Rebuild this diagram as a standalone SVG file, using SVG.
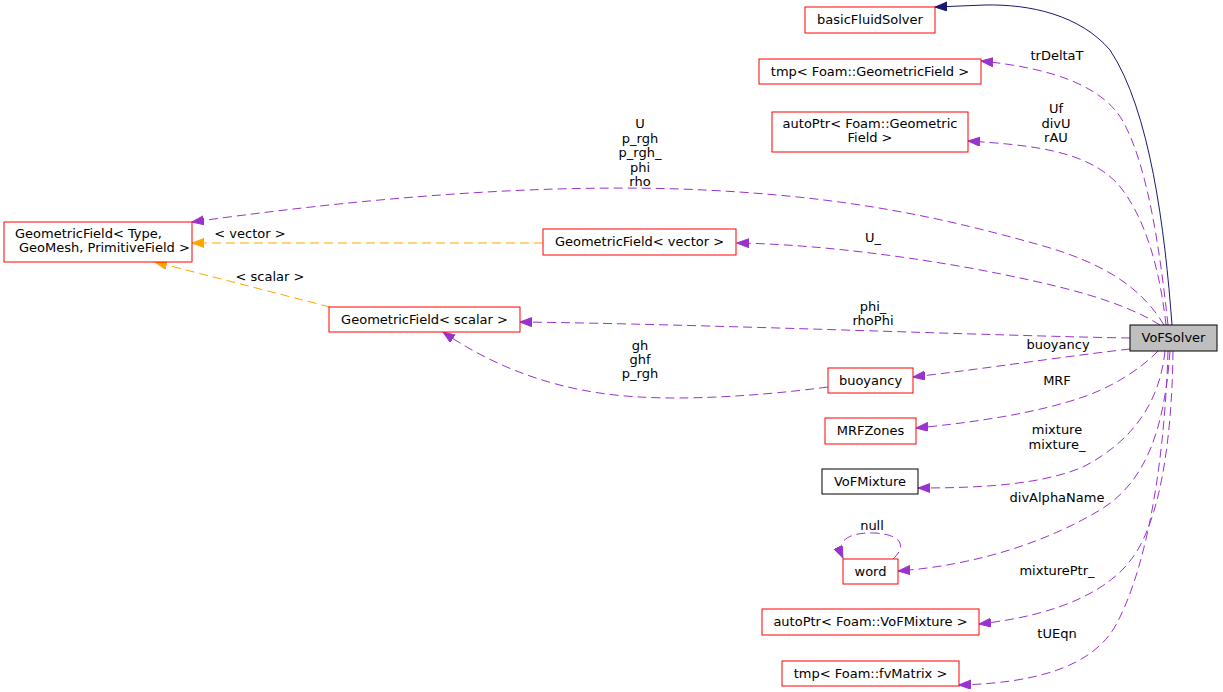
<svg xmlns="http://www.w3.org/2000/svg" width="1223" height="692" viewBox="0 0 1223 692">
  <style>
    text { font-family: "DejaVu Sans", "Liberation Sans", sans-serif; font-size: 13px; fill: #000; }
    .lbl { text-anchor: middle; }
    .node rect { fill: #fff; stroke: #ff0000; stroke-width: 1; }
    .node.plain rect { stroke: #000; }
    .node.main rect { fill: #bfbfbf; stroke: #000; }
    .node text { text-anchor: middle; }
    .use { fill: none; stroke: #9a32cd; stroke-width: 1; stroke-dasharray: 9,5; marker-end: url(#arrPurple); }
    .tpl { fill: none; stroke: #ffa500; stroke-width: 1; stroke-dasharray: 9,5; marker-end: url(#arrOrange); }
    .inh { fill: none; stroke: #191970; stroke-width: 1; marker-end: url(#arrNavy); }
  </style>
  <defs>
    <marker id="arrPurple" markerUnits="userSpaceOnUse" markerWidth="13" markerHeight="10" refX="12" refY="4.5" orient="auto">
      <path d="M0,0 L12,4.5 L0,9 z" fill="#9a32cd" stroke="#9a32cd"/>
    </marker>
    <marker id="arrOrange" markerUnits="userSpaceOnUse" markerWidth="13" markerHeight="10" refX="12" refY="4.5" orient="auto">
      <path d="M0,0 L12,4.5 L0,9 z" fill="#ffa500" stroke="#ffa500"/>
    </marker>
    <marker id="arrNavy" markerUnits="userSpaceOnUse" markerWidth="13" markerHeight="10" refX="12" refY="4.5" orient="auto">
      <path d="M0,0 L12,4.5 L0,9 z" fill="#191970" stroke="#191970"/>
    </marker>
  </defs>
  <rect width="1223" height="692" fill="#fff"/>

  <g id="edges">
    <!-- inheritance -->
    <path class="inh" d="M1172,325 C1165,230 1150,110 1110,50 C1080,15 1030,4 985,5 L935,7"/>
    <!-- members -->
    <path class="use" d="M1168,325 C1160,250 1148,170 1125,125 C1105,85 1050,68 981,61"/>
    <text class="lbl" x="1057" y="60">trDeltaT</text>
    <path class="use" d="M1166,325 C1160,270 1145,215 1117,183 C1085,150 1030,145 968,141"/>
    <text class="lbl" x="1056" y="113">Uf</text>
    <text class="lbl" x="1056" y="127.5">divU</text>
    <text class="lbl" x="1056" y="142">rAU</text>
    <path class="use" d="M1164,325 C1140,285 1100,262 1040,245 C950,220 850,195 680,189 C520,184 350,200 192,222"/>
    <text class="lbl" x="640" y="128">U</text>
    <text class="lbl" x="640" y="142.5">p_rgh</text>
    <text class="lbl" x="640" y="157">p_rgh_</text>
    <text class="lbl" x="640" y="171.5">phi</text>
    <text class="lbl" x="640" y="186">rho</text>
    <path class="use" d="M1160,325 C1120,300 1060,285 970,268 C880,252 800,244 737,243"/>
    <text class="lbl" x="873" y="242">U_</text>
    <path class="use" d="M1130,338 C1000,336 700,324 520,322"/>
    <text class="lbl" x="873" y="311">phi_</text>
    <text class="lbl" x="873" y="325">rhoPhi</text>
    <path class="use" d="M1130,349 C1060,357 990,368 913,377"/>
    <text class="lbl" x="1058" y="349">buoyancy</text>
    <path class="use" d="M1158,351 C1140,370 1110,388 1083,397 C1040,412 980,422 916,428"/>
    <text class="lbl" x="1057" y="385">MRF</text>
    <path class="use" d="M1165,351 C1160,400 1135,440 1083,467 C1040,485 980,488 918,488"/>
    <text class="lbl" x="1057" y="434">mixture</text>
    <text class="lbl" x="1057" y="449">mixture_</text>
    <path class="use" d="M1170,351 C1165,420 1150,480 1100,510 C1050,540 980,565 898,571"/>
    <text class="lbl" x="1057" y="502">divAlphaName</text>
    <path class="use" d="M1173,351 C1172,440 1160,520 1133,557 C1110,590 1060,615 979,624"/>
    <text class="lbl" x="1057" y="575">mixturePtr_</text>
    <path class="use" d="M1168,351 C1165,450 1150,560 1117,623 C1095,665 1040,683 959,685"/>
    <text class="lbl" x="1057" y="638">tUEqn</text>
    <path class="use" d="M828,387 C760,396 690,400 640,397 C580,394 510,378 443,332"/>
    <text class="lbl" x="640" y="350">gh</text>
    <text class="lbl" x="640" y="364">ghf</text>
    <text class="lbl" x="640" y="378">p_rgh</text>
    <path class="use" d="M893,559 C905,548 905,535 875,533 C850,532 835,540 843,558"/>
    <text class="lbl" x="872" y="530">null</text>
    <!-- template instances -->
    <path class="tpl" d="M543,243 L192,243"/>
    <text class="lbl" x="250" y="238">&lt; vector &gt;</text>
    <path class="tpl" d="M330,307 L155,262"/>
    <text class="lbl" x="270" y="281">&lt; scalar &gt;</text>
  </g>

  <g id="node-basicFluidSolver" class="node">
    <rect x="805" y="7" width="130" height="26"/>
    <text x="870" y="24">basicFluidSolver</text>
  </g>
  <g id="node-tmpGeometricField" class="node">
    <rect x="759" y="59" width="222" height="25"/>
    <text x="870" y="76">tmp&lt; Foam::GeometricField &gt;</text>
  </g>
  <g id="node-autoPtrGeometricField" class="node">
    <rect x="772" y="112" width="196" height="40"/>
    <text x="870" y="128">autoPtr&lt; Foam::Geometric</text>
    <text x="870" y="142">Field &gt;</text>
  </g>
  <g id="node-GeometricFieldType" class="node">
    <rect x="4" y="222" width="188" height="40"/>
    <text x="15" y="238" style="text-anchor:start">GeometricField&lt; Type,</text>
    <text x="19" y="252" style="text-anchor:start">GeoMesh, PrimitiveField &gt;</text>
  </g>
  <g id="node-GeometricFieldVector" class="node">
    <rect x="543" y="229" width="193" height="26"/>
    <text x="639.5" y="246">GeometricField&lt; vector &gt;</text>
  </g>
  <g id="node-GeometricFieldScalar" class="node">
    <rect x="329" y="307" width="191" height="25"/>
    <text x="424.5" y="324">GeometricField&lt; scalar &gt;</text>
  </g>
  <g id="node-VoFSolver" class="node main">
    <rect x="1130" y="325" width="87" height="26"/>
    <text x="1173.5" y="342">VoFSolver</text>
  </g>
  <g id="node-buoyancy" class="node">
    <rect x="828" y="368" width="85" height="25"/>
    <text x="870.5" y="385">buoyancy</text>
  </g>
  <g id="node-MRFZones" class="node">
    <rect x="825" y="418" width="91" height="26"/>
    <text x="870.5" y="435">MRFZones</text>
  </g>
  <g id="node-VoFMixture" class="node plain">
    <rect x="822" y="469" width="96" height="25"/>
    <text x="870" y="486">VoFMixture</text>
  </g>
  <g id="node-word" class="node">
    <rect x="843" y="559" width="55" height="25"/>
    <text x="870.5" y="576">word</text>
  </g>
  <g id="node-autoPtrVoFMixture" class="node">
    <rect x="762" y="609" width="217" height="26"/>
    <text x="870.5" y="626">autoPtr&lt; Foam::VoFMixture &gt;</text>
  </g>
  <g id="node-tmpFvMatrix" class="node">
    <rect x="782" y="661" width="177" height="25"/>
    <text x="870.5" y="678">tmp&lt; Foam::fvMatrix &gt;</text>
  </g>
</svg>
